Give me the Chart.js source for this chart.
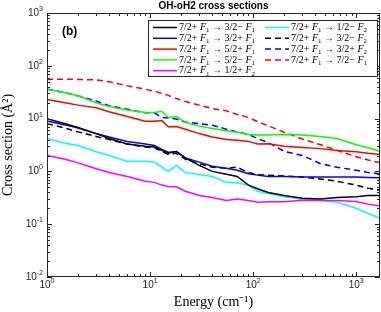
<!DOCTYPE html>
<html>
<head>
<meta charset="utf-8">
<script src="https://cdn.jsdelivr.net/npm/chart.js@4.4.1/dist/chart.umd.min.js"></script>
<style>
  html, body { margin: 0; padding: 0; background: #fff; }
  #wrap { width: 381px; height: 312px; }
</style>
</head>
<body>
<div id="wrap"><canvas id="chart" width="381" height="312"></canvas></div>
<script>
// OH-oH2 cross sections, panel (b)

const energy = [1, 1.5, 2, 3, 4, 6, 9, 11, 13, 15, 18, 22, 30, 40, 55, 70, 90, 110, 140, 200, 300, 450, 650, 1000, 1300, 1700];

const to32mF1 = [10, 8, 6.8, 5.2, 4.2, 3.3, 3.0, 2.9, 2.5, 2.2, 2.4, 1.8, 1.3, 1.0, 0.88, 0.8, 0.55, 0.47, 0.4, 0.35, 0.31, 0.3, 0.32, 0.33, 0.35, 0.35];
const to32pF1 = [9, 7.6, 6.6, 5.2, 4.5, 3.7, 3.3, 3.1, 2.6, 2.3, 2.35, 1.8, 1.5, 1.25, 1.15, 1.05, 0.9, 0.85, 0.8, 0.8, 0.78, 0.78, 0.78, 0.78, 0.77, 0.76];
const to52pF1 = [23, 20, 18, 16, 13.5, 11, 8.9, 8.9, 9.2, 7.0, 7.1, 6.3, 5.2, 4.5, 4.0, 3.9, 3.7, 3.3, 3.35, 3.0, 2.85, 2.7, 2.5, 2.35, 2.2, 2.1];
const to52mF1 = [36, 31, 27, 20, 17, 14.5, 13, 13, 13.8, 10.5, 11, 8.5, 7.2, 6.5, 5.9, 5.5, 5.0, 4.9, 4.9, 5.0, 4.9, 4.6, 4.2, 3.2, 2.8, 2.4];
const to12pF2 = [2.0, 1.7, 1.45, 1.12, 0.95, 0.8, 0.65, 0.62, 0.55, 0.52, 0.51, 0.42, 0.35, 0.32, 0.28, 0.3, 0.28, 0.26, 0.265, 0.265, 0.285, 0.28, 0.28, 0.27, 0.24, 0.22];
const to12mF2 = [4.2, 3.4, 3.1, 2.35, 2.0, 1.55, 1.55, 1.5, 1.2, 1.0, 1.3, 0.95, 0.87, 0.8, 0.62, 0.6, 0.55, 0.42, 0.38, 0.33, 0.3, 0.28, 0.26, 0.2, 0.16, 0.13];
const to32mF2 = [8, 6.6, 5.6, 4.6, 4.0, 3.3, 2.9, 2.8, 2.4, 2.1, 2.2, 1.7, 1.4, 1.2, 1.15, 1.2, 0.95, 0.87, 0.85, 0.82, 0.78, 0.72, 0.65, 0.55, 0.48, 0.44];
const to32pF2 = [36, 31, 27, 21.5, 17.5, 15, 12.9, 12.9, 10.5, 10.3, 9.8, 8.6, 8.0, 7.5, 6.3, 5.6, 5.0, 4.2, 3.5, 2.4, 2.0, 1.4, 1.2, 1.05, 0.95, 0.9];
const to72mF1 = [55, 56, 55, 54, 50, 42, 36, 33, 30, 27.5, 24, 21, 18, 15.5, 14, 12, 10.5, 8.8, 7.3, 5.5, 4.1, 3.2, 2.5, 1.9, 1.65, 1.45];

// final state labels, in legend order
const finalStates = ['3/2−', '3/2+', '5/2+', '5/2−', '1/2+', '1/2−', '3/2−', '3/2+', '7/2−'];
const finalF = ['1', '1', '1', '1', '2', '2', '2', '2', '1'];

const xTicks = [1, 10, 100, 1000];
const yTicks = [0.01, 0.1, 1, 10, 100, 1000];
const xExp = ['0', '1', '2', '3'];
const yExp = ['-2', '-1', '0', '1', '2', '3'];

const seriesValues = [to32mF1, to32pF1, to52pF1, to52mF1, to12pF2, to12mF2, to32mF2, to32pF2, to72mF1];
const colors = ['#000000', '#0000ff', '#ff0000', '#00ff00', '#ff00ff', '#00ffff', '#000000', '#0000ff', '#ff0000'];
const dashed = [false, false, false, false, false, false, true, true, true];

const datasets = seriesValues.map((vals, i) => ({
  data: vals.map((v, j) => ({ x: energy[j], y: v })),
  borderColor: colors[i],
  borderWidth: 1.5,
  borderDash: dashed[i] ? [6, 4] : [],
  pointRadius: 0,
  tension: 0,
  fill: false
}));

// draw "7/2+ F1 -> X F_n" with italic F and subscripts
function drawTransition(ctx, x, y, fin, f) {
  const parts = [
    ['7/2+ ', 'r'], ['F', 'i'], ['1', 's'], [' → ' + fin + ' ', 'r'], ['F', 'i'], [f, 's']
  ];
  ctx.textBaseline = 'middle';
  ctx.textAlign = 'left';
  parts.forEach(([t, k]) => {
    if (k === 'r') ctx.font = '10px "Liberation Serif"';
    else if (k === 'i') ctx.font = 'italic 10px "Liberation Serif"';
    else ctx.font = '7px "Liberation Serif"';
    ctx.fillText(t, x, k === 's' ? y + 3 : y);
    x += ctx.measureText(t).width;
  });
}

function drawPower(ctx, x, y, exp, align) {
  ctx.font = '10px "Liberation Sans"';
  const w1 = ctx.measureText('10').width;
  ctx.font = '7px "Liberation Sans"';
  const w2 = ctx.measureText(exp).width;
  let start = x;
  if (align === 'center') start = x - (w1 + w2) / 2;
  if (align === 'right') start = x - (w1 + w2);
  ctx.textAlign = 'left';
  ctx.textBaseline = 'middle';
  ctx.font = '10px "Liberation Sans"';
  ctx.fillText('10', start, y);
  ctx.font = '7px "Liberation Sans"';
  ctx.fillText(exp, start + w1, y - 4);
}

const decorPlugin = {
  id: 'decor',
  afterDatasetsDraw(chart) {
    const { ctx, chartArea: a, scales } = chart;
    const xs = scales.x, ys = scales.y;
    ctx.save();
    ctx.strokeStyle = '#262626';
    ctx.lineWidth = 1;
    ctx.setLineDash([]);
    ctx.strokeRect(a.left + 0.5, a.top + 0.5, a.right - a.left - 1, a.bottom - a.top - 1);

    // ticks, inside, on all four sides
    ctx.beginPath();
    for (let d = 0; d <= 3; d++) {
      for (let m = 1; m <= 9; m++) {
        const v = Math.pow(10, d) * m;
        if (v > xs.max) break;
        const px = Math.round(xs.getPixelForValue(v)) + 0.5;
        const len = m === 1 ? 5 : 3;
        ctx.moveTo(px, a.bottom); ctx.lineTo(px, a.bottom - len);
        ctx.moveTo(px, a.top); ctx.lineTo(px, a.top + len);
      }
    }
    for (let d = -2; d <= 3; d++) {
      for (let m = 1; m <= 9; m++) {
        const v = Math.pow(10, d) * m;
        if (v > ys.max) break;
        const py = Math.round(ys.getPixelForValue(v)) + 0.5;
        const len = m === 1 ? 5 : 3;
        ctx.moveTo(a.left, py); ctx.lineTo(a.left + len, py);
        ctx.moveTo(a.right, py); ctx.lineTo(a.right - len, py);
      }
    }
    ctx.stroke();

    // tick labels
    ctx.fillStyle = '#262626';
    xTicks.forEach((v, i) => drawPower(ctx, xs.getPixelForValue(v), a.bottom + 8, xExp[i], 'center'));
    yTicks.forEach((v, i) => drawPower(ctx, a.left - 4, ys.getPixelForValue(v), yExp[i], 'right'));

    // axis titles
    ctx.fillStyle = '#000';
    ctx.textAlign = 'center';
    ctx.textBaseline = 'middle';
    ctx.font = '14px "Liberation Serif"';
    ctx.fillText('Energy (cm⁻¹)', (a.left + a.right) / 2, 302);
    ctx.save();
    ctx.translate(8, (a.top + a.bottom) / 2);
    ctx.rotate(-Math.PI / 2);
    ctx.fillText('Cross section (Å²)', 0, 0);
    ctx.restore();

    // title and panel tag
    ctx.font = 'bold 10px "Liberation Sans"';
    ctx.fillText('OH-oH2 cross sections', (a.left + a.right) / 2, 6);
    ctx.font = 'bold 12px "Liberation Sans"';
    ctx.textAlign = 'left';
    ctx.fillText('(b)', 62, 32);

    // legend box
    const bx = 148.5, by = 20.5, bw = 229, bh = 56;
    ctx.fillStyle = '#fff';
    ctx.fillRect(bx, by, bw, bh);
    ctx.strokeStyle = '#262626';
    ctx.strokeRect(bx, by, bw, bh);
    finalStates.forEach((fin, i) => {
      const col = i < 5 ? 0 : 1;
      const row = i < 5 ? i : i - 5;
      const lx = col === 0 ? 153 : 265;
      const ly = 27.5 + row * 10.8;
      ctx.strokeStyle = colors[i];
      ctx.lineWidth = 1.5;
      ctx.setLineDash(dashed[i] ? [6, 4] : []);
      ctx.beginPath();
      ctx.moveTo(lx, ly); ctx.lineTo(lx + 24, ly);
      ctx.stroke();
      ctx.fillStyle = '#000';
      drawTransition(ctx, lx + 26, ly, fin, finalF[i]);
    });
    ctx.restore();
  }
};

new Chart(document.getElementById('chart'), {
  type: 'line',
  data: { datasets },
  options: {
    responsive: false,
    animation: false,
    layout: { padding: { left: 39, top: 13, right: 1, bottom: 27 } },
    plugins: { legend: { display: false }, tooltip: { enabled: false }, title: { display: false } },
    scales: {
      x: {
        type: 'logarithmic', min: 1, max: 1700,
        grid: { display: false }, border: { display: false }, ticks: { display: false }
      },
      y: {
        type: 'logarithmic', min: 0.01, max: 1000,
        grid: { display: false }, border: { display: false }, ticks: { display: false }
      }
    }
  },
  plugins: [decorPlugin]
});
</script>
</body>
</html>
